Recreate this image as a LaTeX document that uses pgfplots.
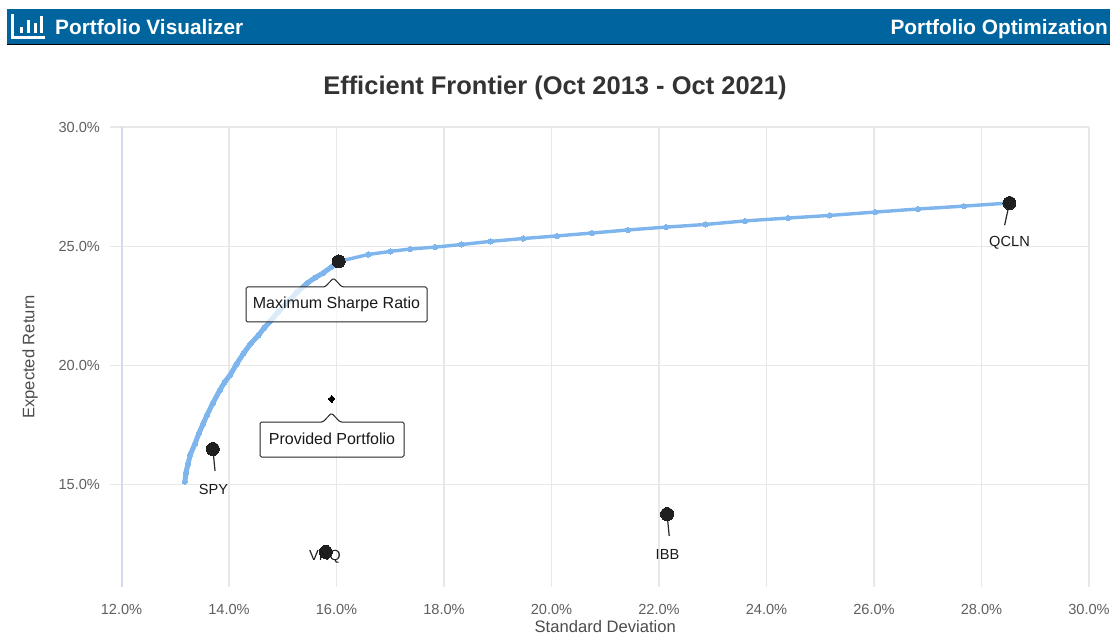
\documentclass[border=0pt]{standalone}
\usepackage{pgfplots}
\pgfplotsset{compat=1.18}
\usepackage{fontspec}
\setmainfont{Liberation Sans}
\definecolor{band}{HTML}{00659F}
\definecolor{gridc}{HTML}{E8E8E8}
\definecolor{axisc}{HTML}{D3DAF0}
\definecolor{front}{HTML}{7DB5EC}
\definecolor{tickc}{HTML}{5F5F5F}
\begin{document}
\begin{tikzpicture}
\path[use as bounding box] (0pt,0pt) rectangle (1110pt,635pt);
\begin{scope}[x=1pt,y=-1pt,yshift=635pt]
% header band
\fill[band] (7,9) rectangle (1110,44);
\draw[black,line width=1pt] (7,44.5) -- (1110,44.5);
\draw[white,line width=3pt] (12.5,14) -- (12.5,37.5) -- (45,37.5);
\draw[white,line width=3pt] (21,27) -- (21,33);
\draw[white,line width=3pt] (28,20.5) -- (28,33);
\draw[white,line width=3pt] (35,23.5) -- (35,33);
\draw[white,line width=3pt] (41.5,16.5) -- (41.5,33);
\node[anchor=base west,inner sep=0,text=white,font=\fontsize{20.8}{24}\selectfont\bfseries] at (55,34.5) {Portfolio Visualizer};
\node[anchor=base east,inner sep=0,text=white,font=\fontsize{20.8}{24}\selectfont\bfseries] at (1108,34.5) {Portfolio Optimization};
\end{scope}
\begin{axis}[
  at={(121.5pt,48pt)},anchor=south west,
  scale only axis,width=967.5pt,height=460pt,
  xmin=12,xmax=30,ymin=10.7,ymax=30,
  axis line style={draw=none},
  axis x line*=bottom,axis y line*=left,
  xtick={12,14,...,30},
  xticklabels={12.0\%,14.0\%,16.0\%,18.0\%,20.0\%,22.0\%,24.0\%,26.0\%,28.0\%,30.0\%},
  ytick={15,20,25,30},
  yticklabels={15.0\%,20.0\%,25.0\%,30.0\%},
  grid=major,
  grid style={gridc,line width=1.3pt},
  xtick style={draw=none},
  ytick style={gridc,line width=1.3pt},
  tick align=outside,
  major tick length=12pt,
  ticklabel style={font=\fontsize{14.6}{16}\selectfont,text=tickc},
  xticklabel style={yshift=-2pt},
  yticklabel style={xshift=-6pt},
  title={\fontsize{25.5}{28}\selectfont\bfseries Efficient Frontier (Oct 2013 - Oct 2021)},
  title style={at={(axis description cs:0.448,1.072)},anchor=center,text=black!80,inner sep=0},
  xlabel={Standard Deviation},
  xlabel style={at={(axis description cs:0.5,-0.086)},anchor=center,font=\fontsize{16.6}{18}\selectfont,text=black!70,inner sep=0},
  ylabel={Expected Return},
  ylabel style={at={(axis description cs:-0.0946,0.5)},anchor=center,rotate=0,font=\fontsize{16.6}{18}\selectfont,text=black!70,inner sep=0},
  clip=false,
]
% left axis line
\addplot[axisc,line width=2pt,forget plot] coordinates {(12,10.7) (12,30)};
% efficient frontier, thick lower part
\addplot[front,line width=5pt,mark=*,mark size=2.6pt,mark options={fill=front,draw=front,line width=0pt}] coordinates {
(13.18,15.12)(13.20,15.50)(13.24,15.89)(13.28,16.25)(13.37,16.73)(13.44,17.15)(13.52,17.55)(13.59,17.91)
(13.70,18.42)(13.83,18.96)(13.92,19.30)(14.02,19.59)(14.14,20.05)(14.27,20.50)(14.40,20.90)(14.55,21.27)
(14.66,21.58)(14.76,21.83)(14.92,22.25)(15.07,22.60)(15.26,23.05)(15.45,23.44)(15.60,23.68)(15.75,23.87)(15.90,24.12)(16.03,24.35)
};
% efficient frontier, upper part
\addplot[front,line width=3.4pt,mark=*,mark size=2.6pt,mark options={fill=front,draw=front,line width=0pt}] coordinates {
(16.03,24.35)(16.59,24.65)(17.00,24.78)(17.37,24.88)(17.83,24.96)(18.33,25.07)(18.86,25.20)(19.47,25.32)
(20.10,25.43)(20.75,25.55)(21.42,25.68)(22.13,25.80)(22.86,25.91)(23.60,26.06)(24.40,26.18)(25.18,26.29)
(26.02,26.43)(26.82,26.56)(27.67,26.68)(28.51,26.81)
};
% stems
\addplot[black!85,line width=1.2pt] coordinates {(28.52,26.81)(28.43,25.88)};
\addplot[black!85,line width=1.2pt] coordinates {(13.70,16.49)(13.74,15.57)};
\addplot[black!85,line width=1.2pt] coordinates {(22.15,13.76)(22.19,12.84)};
% asset points
\addplot[only marks,mark=*,mark size=6.5pt,mark options={fill=black!88,draw=black!88,line width=0pt}] coordinates {
(28.52,26.81)(13.70,16.49)(15.80,12.17)(22.15,13.76)(16.04,24.36)};
\addplot[only marks,mark=diamond*,mark size=3.4pt,mark options={fill=black,draw=black,line width=0pt,xscale=1.3}] coordinates {(15.91,18.59)};
\end{axis}
\begin{scope}[x=1pt,y=-1pt,yshift=635pt]
% labels
\tikzset{lab/.style={inner sep=0,text=black!90,font=\fontsize{14.6}{16}\selectfont},
         call/.style={inner sep=0,text=black!90,font=\fontsize{16}{18}\selectfont}}
\node[lab] at (1009.5,243) {QCLN};
\node[lab] at (213.5,489) {SPY};
\node[lab] at (325,557) {VNQ};
\node[lab] at (667.5,554) {IBB};
% callouts
\filldraw[draw=black!85,fill=white,fill opacity=0.72,line width=1pt,rounded corners=1.5pt]
 (246,287) -- (325,287) -- (333.5,278) -- (342,287) -- (427,287) -- (427,322) -- (246,322) -- cycle;
\node[call] at (336.5,304.5) {Maximum Sharpe Ratio};
\filldraw[draw=black!85,fill=white,fill opacity=0.72,line width=1pt,rounded corners=1.5pt]
 (260,422) -- (323,422) -- (331.5,413) -- (340,422) -- (404,422) -- (404,457) -- (260,457) -- cycle;
\node[call] at (332,439) {Provided Portfolio};
\end{scope}
\end{tikzpicture}
\end{document}
